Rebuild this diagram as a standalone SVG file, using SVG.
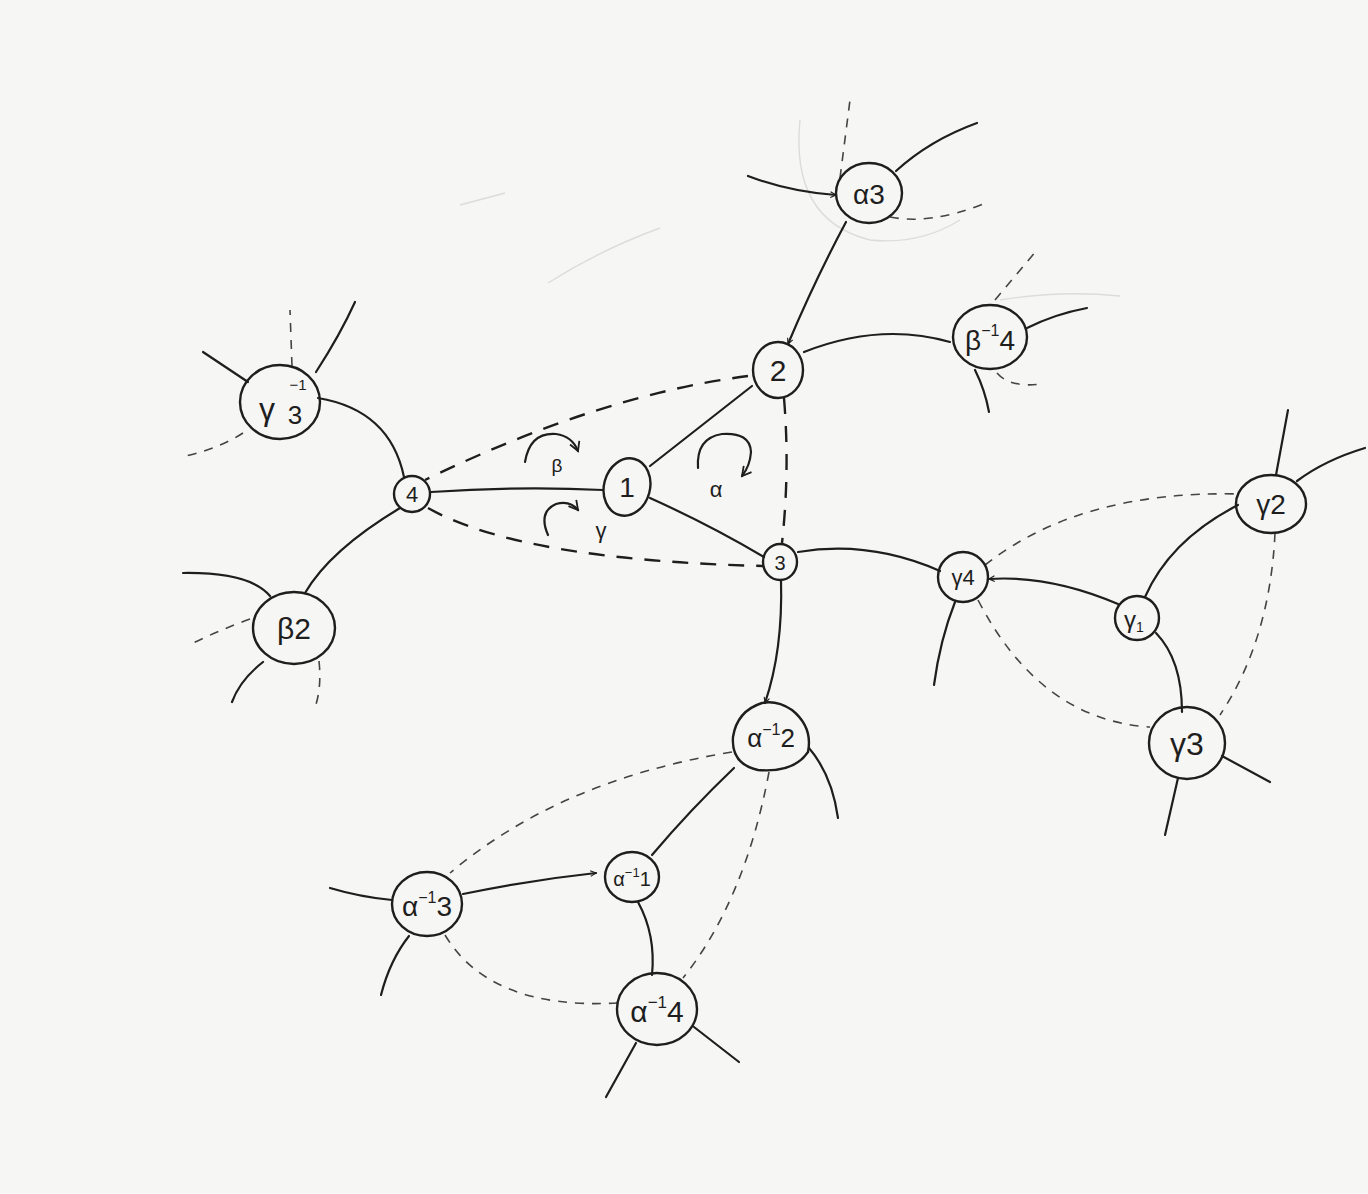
<svg xmlns="http://www.w3.org/2000/svg" width="1368" height="1194" viewBox="0 0 1368 1194">
<defs>
<style>
.n{fill:none;stroke:#1e1e1e;stroke-width:2.4}
.e{fill:none;stroke:#1e1e1e;stroke-width:2.2;stroke-linecap:round}
.d1{fill:none;stroke:#1e1e1e;stroke-width:2.4;stroke-dasharray:16 12}
.d2{fill:none;stroke:#444;stroke-width:1.6;stroke-dasharray:9 8}
.f{fill:none;stroke:#dcdcda;stroke-width:1.4}
.t{font-family:"Liberation Sans","DejaVu Sans",sans-serif;fill:#1e1e1e;text-anchor:middle}
</style>
<marker id="ah" viewBox="0 0 10 10" refX="9" refY="5" markerWidth="7" markerHeight="7" orient="auto-start-reverse" markerUnits="userSpaceOnUse">
<path d="M1,1 L9,5 L1,9" fill="none" stroke="#1e1e1e" stroke-width="1.6"/>
</marker>
<marker id="rh" viewBox="0 0 12 12" refX="10" refY="6" markerWidth="12" markerHeight="12" orient="auto" markerUnits="userSpaceOnUse">
<path d="M1,1 L10,6 L1,11" fill="none" stroke="#1e1e1e" stroke-width="1.8"/>
</marker>
</defs>
<rect width="1368" height="1194" fill="#f6f6f4"/>
<g id="faint">
<path class="f" d="M460,205 L505,193"/>
<path class="f" d="M548,283 Q600,250 660,228"/>
<path class="f" d="M800,120 Q790,220 870,240 Q920,245 960,220"/>
<path class="f" d="M1000,300 Q1060,290 1120,296"/>
</g>
<g id="connectors">
<path class="e" d="M846,222 Q815,280 788,344" marker-end="url(#ah)"/>
<path class="e" d="M950,342 Q880,322 804,352"/>
<path class="e" d="M752,386 L650,466"/>
<path class="e" d="M603,490 Q520,486 431,492"/>
<path class="e" d="M650,498 Q710,525 764,557"/>
<path class="e" d="M798,552 Q870,540 940,571"/>
<path class="e" d="M781,580 Q783,650 765,703" marker-end="url(#ah)"/>
<path class="e" d="M318,398 Q390,410 404,477"/>
<path class="e" d="M400,508 Q330,550 305,593"/>
<path class="e" d="M1118,604 Q1050,575 989,579" marker-end="url(#ah)"/>
<path class="e" d="M1145,597 Q1170,540 1238,505"/>
<path class="e" d="M1156,633 Q1182,660 1182,712"/>
<path class="e" d="M734,768 Q690,810 652,855"/>
<path class="e" d="M463,894 Q530,880 596,873" marker-end="url(#ah)"/>
<path class="e" d="M638,902 Q656,935 652,975"/>
<path class="e" d="M748,176 Q790,192 836,195" marker-end="url(#ah)"/>
<path class="e" d="M896,171 Q930,140 977,123"/>
<path class="e" d="M1027,328 Q1055,314 1087,308"/>
<path class="e" d="M975,370 Q985,390 989,412"/>
<path class="e" d="M203,352 L248,382"/>
<path class="e" d="M316,372 Q340,335 355,302"/>
<path class="e" d="M183,573 Q250,572 270,596"/>
<path class="e" d="M263,662 Q240,680 232,702"/>
<path class="e" d="M955,602 Q940,640 934,685"/>
<path class="e" d="M1276,475 L1288,410"/>
<path class="e" d="M1297,481 Q1325,460 1365,448"/>
<path class="e" d="M1222,756 L1270,782"/>
<path class="e" d="M1178,778 L1165,835"/>
<path class="e" d="M809,748 Q832,775 838,818"/>
<path class="e" d="M330,888 Q360,897 392,900"/>
<path class="e" d="M409,936 Q390,960 381,995"/>
<path class="e" d="M636,1043 L606,1097"/>
<path class="e" d="M694,1027 L739,1062"/>
<path class="d1" d="M748,376 Q600,395 425,480"/>
<path class="d1" d="M784,398 Q790,470 782,543"/>
<path class="d1" d="M428,508 Q520,560 763,566"/>
<path class="d2" d="M840,178 L850,100"/>
<path class="d2" d="M890,217 Q930,225 983,204"/>
<path class="d2" d="M995,300 L1037,250"/>
<path class="d2" d="M997,373 Q1010,388 1042,384"/>
<path class="d2" d="M292,366 L290,310"/>
<path class="d2" d="M243,433 Q220,448 186,456"/>
<path class="d2" d="M250,619 Q220,630 193,643"/>
<path class="d2" d="M319,661 Q322,690 314,710"/>
<path class="d2" d="M985,565 Q1080,490 1240,494"/>
<path class="d2" d="M978,600 Q1040,720 1150,727"/>
<path class="d2" d="M1275,533 Q1270,640 1220,715"/>
<path class="d2" d="M732,752 Q560,780 450,873"/>
<path class="d2" d="M769,772 Q745,900 683,978"/>
<path class="d2" d="M445,935 Q490,1010 617,1003"/>
</g>
<g id="rotations">
<path class="e" d="M525,462 Q530,432 556,434 Q572,436 578,451" marker-end="url(#rh)"/>
<text class="t" x="557" y="472" font-size="19">β</text>
<path class="e" d="M548,535 Q538,512 556,504 Q570,500 578,510" marker-end="url(#rh)"/>
<text class="t" x="601" y="538" font-size="22">γ</text>
<path class="e" d="M698,468 Q696,438 722,434 Q750,432 751,452 Q750,466 742,476" marker-end="url(#rh)"/>
<text class="t" x="716" y="497" font-size="22">α</text>
</g>
<g id="n-a3"><ellipse class="n" cx="869" cy="193" rx="33" ry="30"/><text class="t" x="869" y="204" font-size="28">α3</text></g>
<g id="n-bi4"><ellipse class="n" cx="990" cy="337" rx="37" ry="32"/><text class="t" x="990" y="350" font-size="28">β<tspan font-size="16" dy="-14">−1</tspan><tspan dy="14">4</tspan></text></g>
<g id="n-2"><ellipse class="n" cx="778" cy="370" rx="25" ry="28"/><text class="t" x="778" y="381" font-size="30">2</text></g>
<g id="n-1"><ellipse class="n" cx="627" cy="487" rx="23" ry="29" transform="rotate(15 627 487)"/><text class="t" x="627" y="497" font-size="28">1</text></g>
<g id="n-4"><ellipse class="n" cx="412" cy="494" rx="18" ry="18"/><text class="t" x="412" y="502" font-size="22">4</text></g>
<g id="n-3"><ellipse class="n" cx="780" cy="562" rx="17" ry="18"/><text class="t" x="780" y="570" font-size="20">3</text></g>
<g id="n-gi3"><ellipse class="n" cx="280" cy="402" rx="40" ry="37"/><text class="t" x="267" y="420" font-size="32">γ</text><text class="t" x="295" y="424" font-size="26">3</text><text class="t" x="298" y="390" font-size="15">−1</text></g>
<g id="n-b2"><ellipse class="n" cx="294" cy="628" rx="41" ry="36"/><text class="t" x="294" y="639" font-size="30">β2</text></g>
<g id="n-g4"><ellipse class="n" cx="963" cy="577" rx="25" ry="25"/><text class="t" x="963" y="585" font-size="22">γ4</text></g>
<g id="n-g1"><ellipse class="n" cx="1137" cy="618" rx="22" ry="22"/><text class="t" x="1134" y="628" font-size="24">γ<tspan font-size="14" dy="4">1</tspan></text></g>
<g id="n-g2"><ellipse class="n" cx="1271" cy="504" rx="35" ry="29"/><text class="t" x="1271" y="514" font-size="28">γ2</text></g>
<g id="n-g3"><ellipse class="n" cx="1187" cy="743" rx="38" ry="36"/><text class="t" x="1187" y="755" font-size="32">γ3</text></g>
<g id="n-ai2"><path class="n" d="M762,703 Q737,711 733,737 Q731,764 758,770 Q794,773 808,752 Q813,727 792,710 Q777,700 762,703 Z"/><text class="t" x="771" y="747" font-size="26">α<tspan font-size="16" dy="-12">−1</tspan><tspan dy="12">2</tspan></text></g>
<g id="n-ai3"><ellipse class="n" cx="427" cy="904" rx="35" ry="32"/><text class="t" x="427" y="916" font-size="28">α<tspan font-size="16" dy="-13">−1</tspan><tspan dy="13">3</tspan></text></g>
<g id="n-ai1"><ellipse class="n" cx="632" cy="877" rx="27" ry="25"/><text class="t" x="632" y="886" font-size="20">α<tspan font-size="13" dy="-9">−1</tspan><tspan dy="9">1</tspan></text></g>
<g id="n-ai4"><ellipse class="n" cx="657" cy="1009" rx="40" ry="36"/><text class="t" x="657" y="1022" font-size="30">α<tspan font-size="17" dy="-14">−1</tspan><tspan dy="14">4</tspan></text></g>
</svg>
